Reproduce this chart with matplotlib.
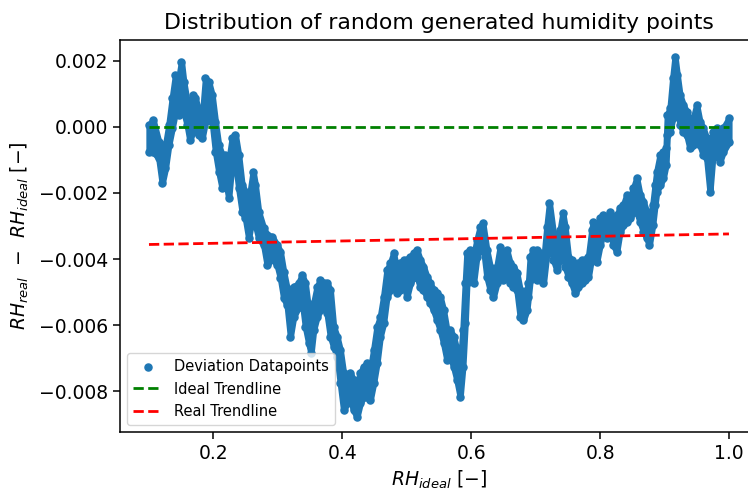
import numpy as np
import matplotlib
matplotlib.use("Agg")
import matplotlib.pyplot as plt

# Relative humidity set points (ideal) and the upper / lower spread of the
# measured deviation RH_real - RH_ideal at each set point, in units of 1e-3.
rh_ideal = [
    0.1000, 0.1065, 0.1152, 0.1205, 0.1256, 0.1307, 0.1360, 0.1411, 0.1462, 0.1504,
    0.1540, 0.1592, 0.1633, 0.1685, 0.1721, 0.1772, 0.1825, 0.1876, 0.1927, 0.1980,
    0.2031, 0.2082, 0.2135, 0.2186, 0.2237, 0.2290, 0.2341, 0.2392, 0.2445, 0.2496,
    0.2547, 0.2616, 0.2651, 0.2702, 0.2780, 0.2833, 0.2910, 0.2988, 0.3039, 0.3090,
    0.3143, 0.3194, 0.3245, 0.3322, 0.3375, 0.3426, 0.3478, 0.3515, 0.3555, 0.3608,
    0.3659, 0.3710, 0.3763, 0.3814, 0.3865, 0.3918, 0.3969, 0.4020, 0.4073, 0.4124,
    0.4175, 0.4228, 0.4279, 0.4330, 0.4383, 0.4434, 0.4485, 0.4538, 0.4589, 0.4640,
    0.4693, 0.4744, 0.4795, 0.4848, 0.4899, 0.4950, 0.5003, 0.5054, 0.5105, 0.5158,
    0.5209, 0.5260, 0.5313, 0.5364, 0.5416, 0.5468, 0.5519, 0.5571, 0.5623, 0.5674,
    0.5726, 0.5778, 0.5829, 0.5871, 0.5907, 0.5933, 0.5984, 0.6036, 0.6088, 0.6140,
    0.6181, 0.6243, 0.6295, 0.6346, 0.6398, 0.6450, 0.6501, 0.6553, 0.6605, 0.6656,
    0.6709, 0.6760, 0.6811, 0.6864, 0.6888, 0.6915, 0.6966, 0.7019, 0.7070, 0.7121,
    0.7174, 0.7214, 0.7276, 0.7329, 0.7380, 0.7422, 0.7457, 0.7509, 0.7561, 0.7612,
    0.7664, 0.7716, 0.7767, 0.7819, 0.7871, 0.7896, 0.7949, 0.8000, 0.8051, 0.8104,
    0.8155, 0.8206, 0.8259, 0.8310, 0.8361, 0.8414, 0.8465, 0.8516, 0.8569, 0.8620,
    0.8671, 0.8724, 0.8764, 0.8817, 0.8853, 0.8879, 0.8930, 0.8981, 0.9023, 0.9043,
    0.9085, 0.9127, 0.9163, 0.9198, 0.9240, 0.9291, 0.9344, 0.9395, 0.9446, 0.9499,
    0.9550, 0.9601, 0.9654, 0.9705, 0.9756, 0.9809, 0.9860, 0.9911, 1.0000,
]

dev_high_milli = [
    0.06, 0.21, -0.45, -0.55, -0.55, 0.06, 0.87, 1.58, 1.48, 1.98,
    1.37, 0.77, 0.46, 0.97, 0.87, 0.46, 0.26, 1.48, 1.37, 0.97,
    0.16, -0.55, -0.85, -0.85, -1.05, -0.34, -0.24, -0.85, -1.76, -1.96,
    -2.26, -1.35, -1.76, -2.57, -3.07, -3.27, -3.32, -3.58, -3.78, -4.38,
    -4.89, -5.14, -4.84, -4.74, -4.48, -4.74, -5.55, -5.75, -5.34, -4.84,
    -4.64, -4.74, -4.74, -4.94, -6.05, -6.35, -6.76, -7.46, -7.57, -7.46,
    -7.67, -7.77, -7.46, -7.26, -7.16, -7.36, -6.76, -6.05, -5.75, -5.14,
    -4.33, -4.13, -3.83, -4.33, -4.13, -4.03, -4.03, -3.93, -3.83, -3.73,
    -4.03, -4.23, -4.54, -4.74, -4.94, -5.04, -5.14, -5.55, -6.15, -6.15,
    -6.35, -6.76, -7.26, -6.15, -4.74, -3.83, -3.73, -3.93, -3.42, -3.02,
    -2.92, -3.73, -4.23, -4.43, -4.23, -3.63, -3.93, -3.73, -4.13, -4.23,
    -4.43, -4.94, -5.24, -4.94, -4.74, -3.93, -3.73, -3.73, -3.83, -4.13,
    -3.02, -2.31, -3.22, -3.73, -3.12, -2.62, -3.02, -3.93, -4.03, -4.33,
    -4.13, -4.03, -4.03, -3.93, -3.12, -2.87, -3.17, -2.77, -2.67, -2.77,
    -2.57, -2.97, -2.67, -2.46, -2.36, -2.06, -2.16, -1.86, -1.55, -2.06,
    -2.26, -2.57, -2.97, -2.36, -1.76, -1.35, -0.85, -0.75, -0.65, 0.36,
    0.57, 1.48, 2.13, 1.58, 0.97, 0.67, 0.46, 0.16, 0.26, 0.67,
    0.16, -0.04, -0.34, -0.55, -0.14, -0.04, -0.24, -0.04, 0.26,
]

dev_low_milli = [
    -0.75, -0.75, -0.95, -1.71, -1.25, -0.55, -0.04, 0.46, 0.36, 0.82,
    0.46, 0.06, -0.39, -0.14, -0.04, -0.24, -0.34, 0.16, 0.46, 0.16,
    -0.75, -1.35, -1.86, -1.55, -2.16, -1.05, -1.05, -1.86, -2.57, -2.77,
    -3.37, -2.57, -2.97, -3.37, -3.58, -4.18, -3.98, -4.18, -4.58, -5.19,
    -5.39, -6.35, -5.75, -5.45, -5.24, -6.05, -6.55, -6.86, -6.15, -5.75,
    -5.55, -5.45, -5.65, -6.35, -6.66, -6.96, -7.77, -8.58, -8.37, -8.27,
    -8.58, -8.78, -8.37, -8.17, -8.17, -8.27, -7.77, -7.16, -6.35, -5.95,
    -5.14, -4.94, -4.84, -5.04, -4.94, -4.74, -5.14, -4.74, -4.54, -4.54,
    -4.84, -4.94, -5.14, -5.34, -5.55, -5.85, -6.15, -6.55, -7.06, -6.96,
    -7.26, -7.67, -8.17, -7.26, -5.95, -4.74, -4.64, -4.74, -3.93, -3.63,
    -3.52, -4.54, -4.94, -5.14, -4.74, -4.43, -4.64, -4.54, -4.74, -4.84,
    -4.94, -5.75, -5.85, -5.55, -5.14, -4.64, -4.43, -4.64, -4.54, -4.74,
    -3.83, -3.32, -4.03, -4.33, -3.93, -3.52, -4.23, -4.54, -4.74, -5.04,
    -4.84, -4.74, -4.64, -4.54, -3.93, -3.78, -4.08, -3.58, -3.17, -3.37,
    -3.17, -3.58, -3.78, -3.17, -2.97, -2.87, -2.77, -2.57, -2.57, -2.87,
    -3.17, -3.37, -3.58, -2.97, -2.36, -1.96, -1.76, -1.55, -1.15, -0.24,
    -0.14, 0.26, 0.97, 0.67, 0.06, -0.14, -0.24, -0.65, -0.55, -0.24,
    -0.55, -0.85, -0.95, -1.96, -0.75, -0.85, -1.05, -0.75, -0.45,
]

# Trendlines: ideal (no deviation) and the fitted real one
trend_x = [0.1, 1.0]
ideal_trend = [0.0, 0.0]
real_trend = [-0.00356, -0.00324]

x = np.array(rh_ideal)
dev_high = np.array(dev_high_milli) * 1e-3
dev_low = np.array(dev_low_milli) * 1e-3

plt.rcParams["font.family"] = ["DejaVu Sans"]
plt.rcParams["mathtext.fontset"] = "dejavusans"

fig = plt.figure(figsize=(7.48, 4.91), dpi=100)
ax = fig.add_axes([0.1604, 0.1202, 0.8529, 0.7984])

blue = "#1f77b4"
ax.fill_between(x, dev_low, dev_high, color=blue, linewidth=4.5, edgecolor=blue,
                zorder=2)
ax.scatter(np.concatenate([x, x]), np.concatenate([dev_high, dev_low]),
           s=26, color=blue, zorder=2, label="Deviation Datapoints")
ax.plot(trend_x, ideal_trend, "--", color="green", linewidth=2,
        label="Ideal Trendline", zorder=3)
ax.plot(trend_x, real_trend, "--", color="red", linewidth=2,
        label="Real Trendline", zorder=3)

ax.set_xlim(0.055, 1.045)
ax.set_ylim(-0.00924, 0.002636)
ax.set_xticks([0.2, 0.4, 0.6, 0.8, 1.0])
ax.set_yticks([0.002, 0.0, -0.002, -0.004, -0.006, -0.008])
ax.tick_params(labelsize=13.5, length=5, width=1.1)
for sp in ax.spines.values():
    sp.set_linewidth(1.1)
ax.spines["right"].set_visible(False)

ax.set_title("Distribution of random generated humidity points", fontsize=15.8, pad=8)
ax.set_xlabel(r"$RH_{ideal}$ [$-$]", fontsize=13.5, labelpad=4)
ax.set_ylabel(r"$RH_{real}$  $-$  $RH_{ideal}$ [$-$]", fontsize=13.5, labelpad=6)

ax.legend(loc="lower left", fontsize=10.5, scatterpoints=1)

fig.savefig("out.png", dpi=100)
